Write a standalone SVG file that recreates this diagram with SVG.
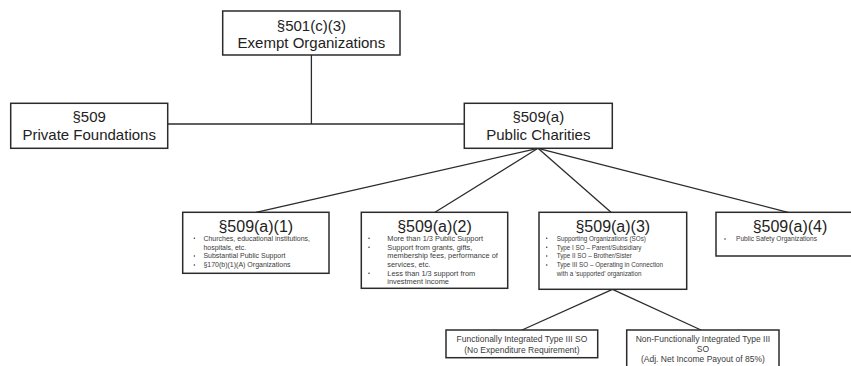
<svg xmlns="http://www.w3.org/2000/svg" width="851" height="366" viewBox="0 0 851 366">
  <style>
    .box { fill: #ffffff; stroke: #2b2b2b; stroke-width: 1.5; }
    .link { fill: none; stroke: #2b2b2b; stroke-width: 1.3; }
    .head { font-family: "Liberation Sans", Arial, sans-serif; font-size: 15px; fill: #222222; text-anchor: middle; }
    .title { font-family: "Liberation Sans", Arial, sans-serif; font-size: 16px; fill: #222222; text-anchor: middle; }
    .item { font-family: "Liberation Sans", Arial, sans-serif; fill: #3a3a3a; }
    .dot { fill: #3a3a3a; }
    .sub { font-family: "Liberation Sans", Arial, sans-serif; font-size: 8.5px; fill: #3a3a3a; text-anchor: middle; }
  </style>

  <!-- tree connectors -->
  <g id="connectors">
    <line class="link" x1="311.4" y1="55" x2="311.4" y2="124"/>
    <line class="link" x1="167.7" y1="124" x2="464.3" y2="124"/>
    <line class="link" x1="538" y1="148.3" x2="256" y2="212.3"/>
    <line class="link" x1="538" y1="148.3" x2="435" y2="212.3"/>
    <line class="link" x1="538" y1="148.3" x2="611" y2="212.3"/>
    <line class="link" x1="538" y1="148.3" x2="788" y2="212.3"/>
    <line class="link" x1="612.5" y1="289.3" x2="522" y2="330"/>
    <line class="link" x1="612.5" y1="289.3" x2="701" y2="330"/>
  </g>

  <g id="exempt">
    <rect class="box" x="222.7" y="11" width="177.3" height="44"/>
    <text class="head" x="311.4" y="30.7">§501(c)(3)</text>
    <text class="head" x="311.4" y="48.3">Exempt Organizations</text>
  </g>

  <g id="private-foundations">
    <rect class="box" x="10.7" y="103.3" width="157" height="45"/>
    <text class="head" x="89.2" y="121.7">§509</text>
    <text class="head" x="89.2" y="140">Private Foundations</text>
  </g>

  <g id="public-charities">
    <rect class="box" x="464.3" y="103.3" width="148" height="45"/>
    <text class="head" x="538.3" y="121.7">§509(a)</text>
    <text class="head" x="538.3" y="140">Public Charities</text>
  </g>

  <g id="a1">
    <rect class="box" x="182.7" y="212.3" width="146.3" height="61"/>
    <text class="title" x="255.8" y="231.5">§509(a)(1)</text>
    <g class="item" font-size="7">
      <text x="203.4" y="240.5">Churches, educational institutions,</text>
      <text x="203.4" y="249.5">hospitals, etc.</text>
      <text x="203.4" y="258.3">Substantial Public Support</text>
      <text x="203.4" y="267.2">§170(b)(1)(A) Organizations</text>
    </g>
    <circle class="dot" cx="194.4" cy="238.3" r="0.8"/>
    <circle class="dot" cx="194.4" cy="256" r="0.8"/>
    <circle class="dot" cx="194.4" cy="265" r="0.8"/>
  </g>

  <g id="a2">
    <rect class="box" x="361.3" y="212.3" width="146.4" height="76"/>
    <text class="title" x="434.5" y="231.5">§509(a)(2)</text>
    <g class="item" font-size="7.4">
      <text x="387.3" y="240.5">More than 1/3 Public Support</text>
      <text x="387.3" y="249.5">Support from grants, gifts,</text>
      <text x="387.3" y="258.3">membership fees, performance of</text>
      <text x="387.3" y="267.2">services, etc.</text>
      <text x="387.3" y="275.6">Less than 1/3 support from</text>
      <text x="387.3" y="284">investment income</text>
    </g>
    <circle class="dot" cx="369" cy="238.3" r="0.8"/>
    <circle class="dot" cx="369" cy="247.3" r="0.8"/>
    <circle class="dot" cx="369" cy="273.3" r="0.8"/>
  </g>

  <g id="a3">
    <rect class="box" x="539" y="212.3" width="147.7" height="77"/>
    <text class="title" x="612.8" y="231.5">§509(a)(3)</text>
    <g class="item" font-size="6.3">
      <text x="556.7" y="240.5">Supporting Organizations (SOs)</text>
      <text x="556.7" y="249.5">Type I SO – Parent/Subsidiary</text>
      <text x="556.7" y="258.3">Type II SO – Brother/Sister</text>
      <text x="556.7" y="267.2">Type III SO – Operating in Connection</text>
      <text x="556.7" y="275.6">with a ‘supported’ organization</text>
    </g>
    <circle class="dot" cx="546.7" cy="238.3" r="0.8"/>
    <circle class="dot" cx="546.7" cy="247.3" r="0.8"/>
    <circle class="dot" cx="546.7" cy="256" r="0.8"/>
    <circle class="dot" cx="546.7" cy="265" r="0.8"/>
  </g>

  <g id="a4">
    <rect class="box" x="716" y="212.3" width="148" height="43.7"/>
    <text class="title" x="790" y="231.5">§509(a)(4)</text>
    <text class="item" font-size="6.6" x="736" y="241.2">Public Safety Organizations</text>
    <circle class="dot" cx="725" cy="239" r="0.8"/>
  </g>

  <g id="functionally-integrated">
    <rect class="box" x="446" y="330" width="151.7" height="27.7"/>
    <text class="sub" x="521.9" y="342">Functionally Integrated Type III SO</text>
    <text class="sub" x="521.9" y="353">(No Expenditure Requirement)</text>
  </g>

  <g id="non-functionally-integrated">
    <rect class="box" x="626.7" y="330" width="152.3" height="42"/>
    <text class="sub" x="702.9" y="342">Non-Functionally Integrated Type III</text>
    <text class="sub" x="702.9" y="352.3">SO</text>
    <text class="sub" x="702.9" y="362.3">(Adj. Net Income Payout of 85%)</text>
  </g>
</svg>
